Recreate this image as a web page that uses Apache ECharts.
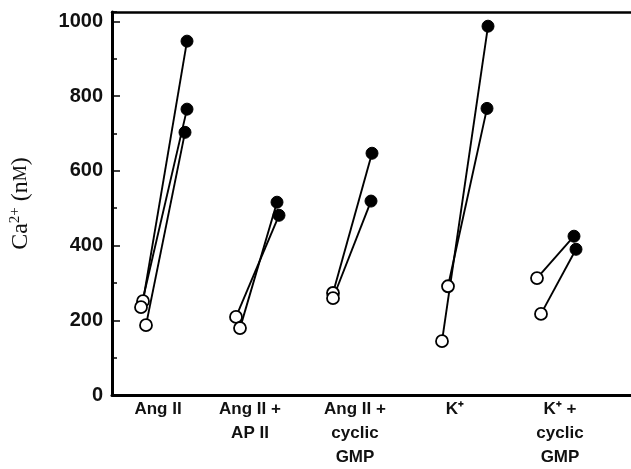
<!DOCTYPE html>
<html>
<head>
<meta charset="utf-8">
<script src="https://cdn.jsdelivr.net/npm/echarts@6/dist/echarts.min.js"></script>
<style>
  html, body { margin: 0; padding: 0; background: #fff; }
  #ca_chart { width: 631px; height: 469px; }
</style>
</head>
<body>
<div id="ca_chart"></div>
<script>
// conditions (x axis labels) and where they sit on the x scale
const categories = ['Ang II', 'Ang II +\nAP II', 'Ang II +\ncyclic\nGMP', 'K\u207A', 'K\u207A +\ncyclic\nGMP'];
const catPos = [1.01, 1.93, 2.98, 3.98, 5.03];
// one entry per cell: resting (open circle) -> stimulated (filled circle)
const baseX = [0.86, 0.84, 0.89, 1.79, 1.83, 2.76, 2.76, 3.91, 3.85, 4.80, 4.84];
const baseY = [251, 235, 187, 209, 179, 273, 259, 291, 144, 313, 217];
const stimX = [1.30, 1.30, 1.28, 2.22, 2.20, 3.15, 3.14, 4.30, 4.31, 5.17, 5.19];
const stimY = [947, 765, 703, 481, 516, 647, 519, 767, 987, 425, 390];
// y axis ticks
const yMajor = 200;
const yMinor = 100;

const openStyle = { color: '#fff', borderColor: '#000', borderWidth: 1.8 };
const filledStyle = { color: '#000', borderColor: '#000', borderWidth: 1 };

const series = [];
for (let i = 0; i < baseX.length; i++) {
  series.push({
    type: 'line',
    symbol: 'circle',
    symbolSize: 12,
    lineStyle: { color: '#000', width: 1.9 },
    data: [
      { value: [baseX[i], baseY[i]], itemStyle: openStyle },
      { value: [stimX[i], stimY[i]], itemStyle: filledStyle }
    ]
  });
}

const option = {
  animation: false,
  grid: { left: 112, right: 0, top: 12, bottom: 74 },
  xAxis: [
    {
      type: 'value',
      min: 0.55,
      max: 5.74,
      axisLine: { onZero: false, lineStyle: { color: '#000', width: 3 } },
      axisTick: { show: false },
      splitLine: { show: false },
      axisLabel: {
        customValues: catPos,
        formatter: (v) => categories[catPos.indexOf(v)] || '',
        color: '#111',
        fontFamily: 'Liberation Sans',
        fontWeight: 'bold',
        fontSize: 17,
        lineHeight: 24,
        margin: 2
      }
    },
    {
      // top frame line
      type: 'value',
      position: 'top',
      min: 0.55,
      max: 5.74,
      axisLine: { show: true, onZero: false, lineStyle: { color: '#000', width: 2.5 } },
      axisTick: { show: false },
      axisLabel: { show: false },
      splitLine: { show: false }
    }
  ],
  yAxis: [
    {
      type: 'value',
      min: 0,
      max: 1025,
      interval: yMajor,
      name: '{m|Ca}{s|2+}{m| (n}{k|M}{m|)}',
      nameLocation: 'middle',
      nameGap: 78,
      nameTextStyle: {
        rich: {
          m: { fontFamily: 'Liberation Serif', fontSize: 24, color: '#111', lineHeight: 26 },
          s: { fontFamily: 'Liberation Serif', fontSize: 15, color: '#111', verticalAlign: 'top', lineHeight: 14 },
          k: { fontFamily: 'Liberation Serif', fontSize: 18, color: '#111', lineHeight: 26 }
        }
      },
      axisLine: { show: true, onZero: false, lineStyle: { color: '#000', width: 3 } },
      axisTick: { show: true, inside: true, length: 8, lineStyle: { color: '#000', width: 1.5 } },
      splitLine: { show: false },
      axisLabel: {
        showMaxLabel: false,
        formatter: (v) => String(v),
        color: '#111',
        fontFamily: 'Liberation Sans',
        fontWeight: 'bold',
        fontSize: 20,
        margin: 9
      }
    },
    {
      // minor ticks every 100
      type: 'value',
      position: 'left',
      min: 0,
      max: 1025,
      interval: yMinor,
      axisLine: { show: false },
      axisTick: { show: true, inside: true, length: 5, lineStyle: { color: '#000', width: 1.5 } },
      axisLabel: { show: false },
      splitLine: { show: false }
    }
  ],
  series: series
};

const box = echarts.init(document.getElementById('ca_chart'));
box.setOption(option);
</script>
</body>
</html>
